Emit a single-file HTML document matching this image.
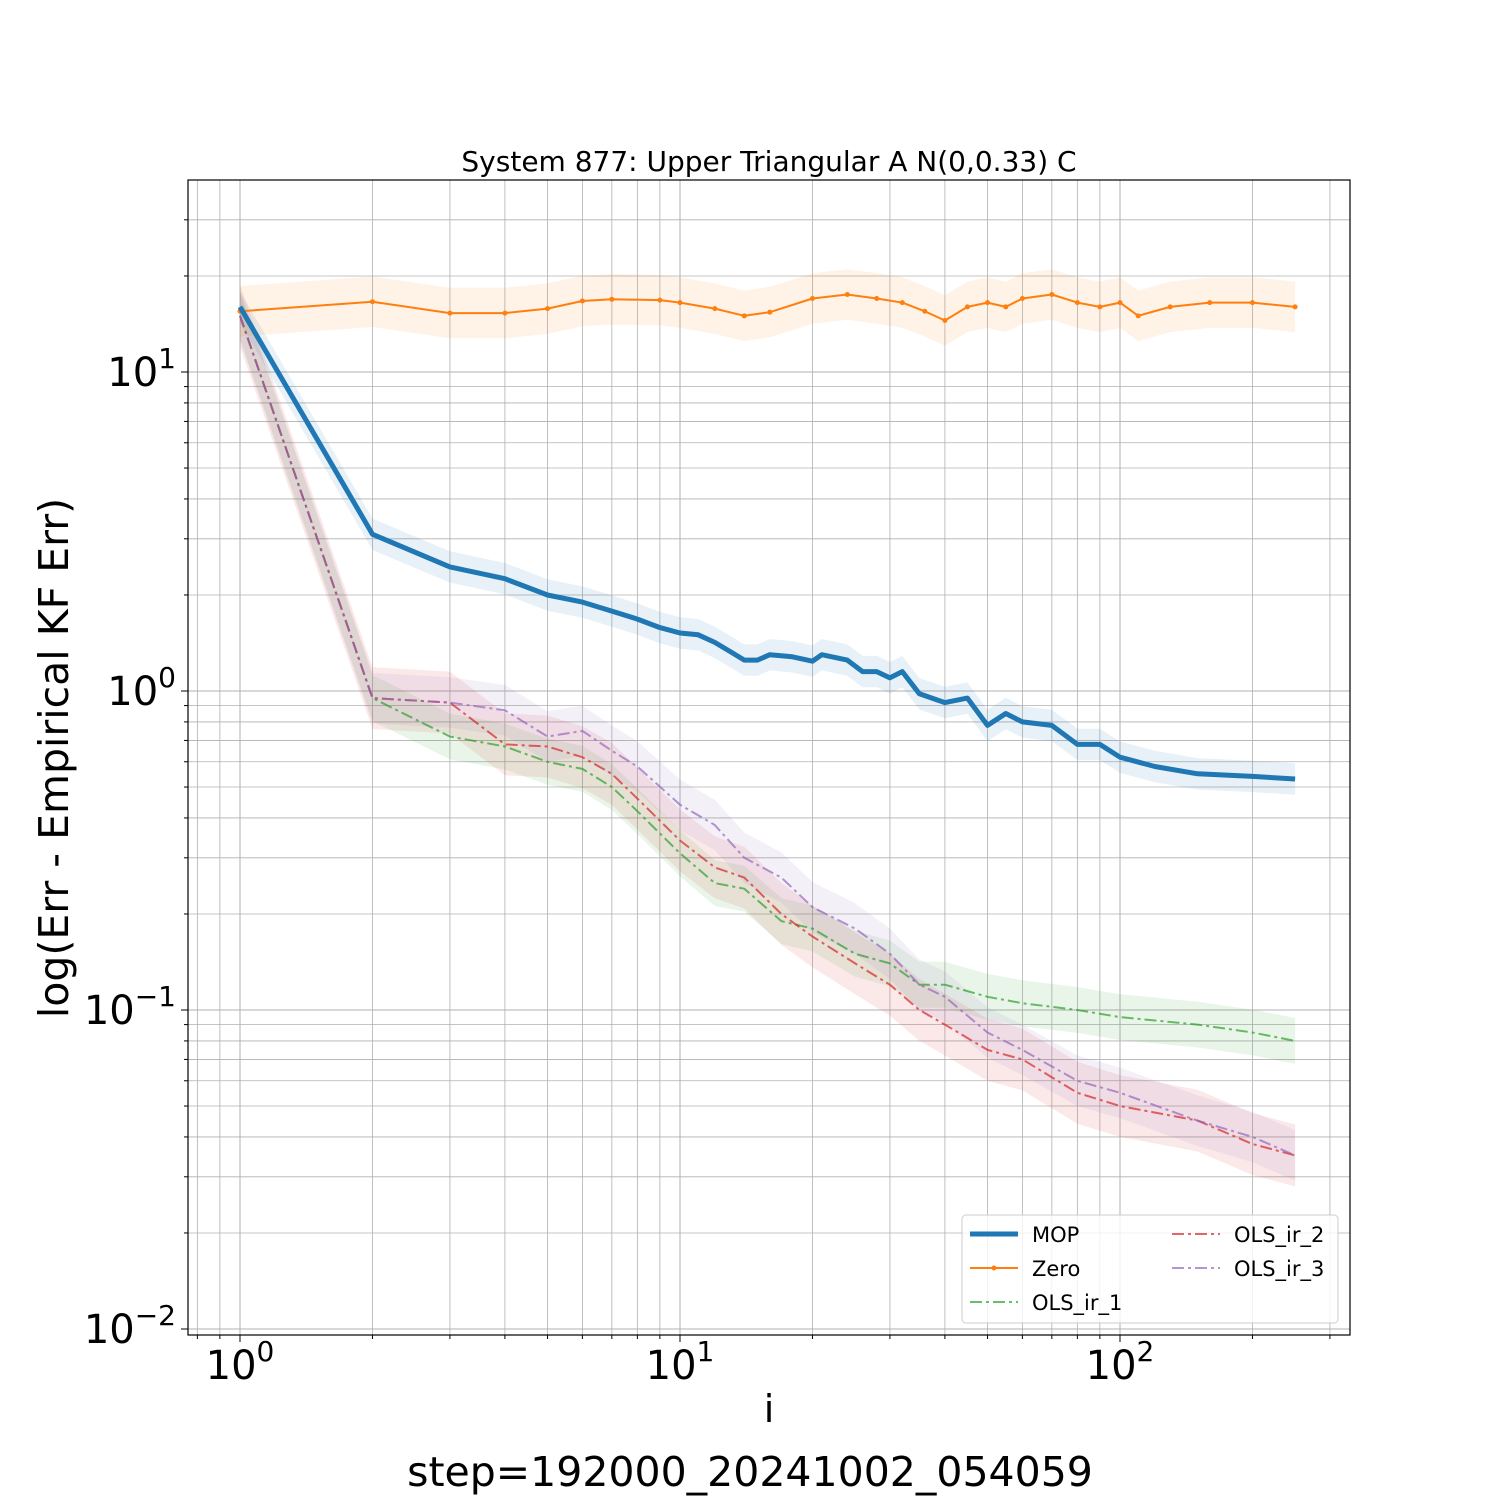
<!DOCTYPE html>
<html><head><meta charset="utf-8">
<style>
html,body{margin:0;padding:0;background:#fff;}
svg{display:block;font-family:"DejaVu Sans","Liberation Sans",sans-serif;}
</style></head>
<body>
<svg id="chart" width="1500" height="1500" viewBox="0 0 1500 1500">
<text x="769" y="171" font-size="28" text-anchor="middle">System 877: Upper Triangular A N(0,0.33) C</text>
<g id="grid"></g>
<g id="bands"></g>
<g id="lines"></g>
<rect x="188" y="180" width="1162" height="1155" fill="none" stroke="#000" stroke-width="1.2"/>
<g id="ticks"></g>
<text x="769" y="1422" font-size="38" text-anchor="middle">i</text>
<text x="750" y="1486" font-size="41" text-anchor="middle">step=192000_20241002_054059</text>
<text transform="translate(68,758) rotate(-90)" font-size="41" text-anchor="middle">log(Err - Empirical KF Err)</text>
<g>
<rect x="962" y="1215" width="376" height="108" rx="4" fill="#fff" fill-opacity="0.8" stroke="#ccc"/>
<g><line x1="970" y1="1234" x2="1018" y2="1234" stroke="#1f77b4" stroke-width="5"/><text x="1032" y="1242" font-size="21">MOP</text></g>
<g><line x1="970" y1="1268" x2="1018" y2="1268" stroke="#ff7f0e" stroke-width="2"/><circle cx="994" cy="1268" r="2.5" fill="#ff7f0e"/><text x="1032" y="1276" font-size="21">Zero</text></g>
<g><line x1="970" y1="1302" x2="1018" y2="1302" stroke="#2ca02c" stroke-opacity="0.7" stroke-width="2" stroke-dasharray="12,4,3,4"/><text x="1032" y="1310" font-size="21">OLS_ir_1</text></g>
<g><line x1="1172" y1="1234" x2="1220" y2="1234" stroke="#d62728" stroke-opacity="0.7" stroke-width="2" stroke-dasharray="12,4,3,4"/><text x="1234" y="1242" font-size="21">OLS_ir_2</text></g>
<g><line x1="1172" y1="1268" x2="1220" y2="1268" stroke="#9467bd" stroke-opacity="0.7" stroke-width="2" stroke-dasharray="12,4,3,4"/><text x="1234" y="1276" font-size="21">OLS_ir_3</text></g>
</g>
</svg>
<script>
const mopX=[1,2,3,4,5,6,7,8,9,10,11,12,13,14,15,16,18,20,21,24,26,28,30,32,35,40,45,50,55,60,70,80,90,100,120,150,200,250];
const mopY=[16,3.1,2.45,2.25,2.0,1.9,1.78,1.68,1.58,1.52,1.5,1.42,1.33,1.25,1.25,1.3,1.28,1.24,1.3,1.25,1.15,1.15,1.1,1.15,0.98,0.92,0.95,0.78,0.85,0.8,0.78,0.68,0.68,0.62,0.58,0.55,0.54,0.53];
const zeroX=[1,2,3,4,5,6,7,9,10,12,14,16,20,24,28,32,36,40,45,50,55,60,70,80,90,100,110,130,160,200,250];
const zeroY=[15.5,16.6,15.3,15.3,15.8,16.7,16.9,16.8,16.5,15.8,15.0,15.4,17,17.5,17,16.5,15.5,14.5,16,16.5,16,17,17.5,16.5,16,16.5,15,16,16.5,16.5,16];
const olsX=[1,2,3,4,5,6,7,8,10,12,14,17,20,25,30,35,40,50,60,80,100,150,200,250];
const ols1Y=[15,0.95,0.72,0.67,0.6,0.57,0.5,0.42,0.31,0.25,0.24,0.19,0.18,0.15,0.14,0.12,0.12,0.11,0.105,0.1,0.095,0.09,0.085,0.08];
const ols2Y=[15,0.95,0.92,0.68,0.67,0.62,0.55,0.46,0.34,0.28,0.26,0.2,0.17,0.14,0.12,0.1,0.09,0.075,0.07,0.055,0.05,0.045,0.038,0.035];
const ols3Y=[15,0.95,0.92,0.87,0.72,0.75,0.65,0.58,0.44,0.38,0.3,0.26,0.21,0.18,0.15,0.12,0.11,0.085,0.075,0.06,0.055,0.045,0.04,0.035];
const xTickLabels=["0","1","2"];
const yTickLabels=["1","0","\u22121","\u22122"];

const NS="http://www.w3.org/2000/svg";
const X=v=>240+440*Math.log10(v);
const Y=v=>691-319*Math.log10(v);
function mk(tag,attrs,parent){const e=document.createElementNS(NS,tag);for(const k in attrs)e.setAttribute(k,attrs[k]);parent.appendChild(e);return e;}
const grid=document.getElementById('grid'),ticks=document.getElementById('ticks'),bands=document.getElementById('bands'),lines=document.getElementById('lines');
for(let d=0;d<3;d++){for(let m=1;m<10;m++){const v=m*Math.pow(10,d);if(v>300)continue;const x=X(v);
 const g=mk('line',{x1:x,x2:x,y1:180,y2:1335,stroke:'#b0b0b0','stroke-width':m===1?1:0.8},grid);
 
 
 mk('line',{x1:x,x2:x,y1:1335,y2:1335+(m===1?7:4),stroke:'#000','stroke-width':1},ticks);
 if(m===1){const t=mk('text',{x:x,y:1379,'font-size':40,'text-anchor':'middle'},ticks);
  
  
  t.innerHTML='10<tspan dy="-18" font-size="28">'+xTickLabels[d]+'</tspan>';}}}
for(const v of [0.8,0.9]){const x=X(v);mk('line',{x1:x,x2:x,y1:180,y2:1335,stroke:'#b0b0b0','stroke-width':0.8},grid);mk('line',{x1:x,x2:x,y1:1335,y2:1339,stroke:'#000'},ticks);}
for(let d=-2;d<2;d++){for(let m=1;m<10;m++){const v=m*Math.pow(10,d);const y=Y(v);if(y<180||y>1335)continue;
 const g=mk('line',{x1:188,x2:1350,y1:y,y2:y,stroke:'#b0b0b0','stroke-width':m===1?1:0.8},grid);
 
 
 mk('line',{x1:188-(m===1?7:4),x2:188,y1:y,y2:y,stroke:'#000'},ticks);
 if(m===1){const t=mk('text',{x:176,y:y+14,'font-size':40,'text-anchor':'end'},ticks);
  
  
  t.innerHTML='10<tspan dy="-18" font-size="28">'+yTickLabels[1-d]+'</tspan>';}}}
function pts(xs,ys,f){return xs.map((x,i)=>X(x).toFixed(1)+','+Y(ys[i]*f).toFixed(1));}
function series(name,xs,ys,color,width,dash,op,bandF,marker){
 const b=mk('polygon',{points:pts(xs,ys,bandF).concat(pts(xs,ys,1/bandF).reverse()).join(' '),fill:color,'fill-opacity':0.1},bands);
 
 
 const l=mk('polyline',{points:pts(xs,ys,1).join(' '),fill:'none',stroke:color,'stroke-width':width,'stroke-opacity':op,'stroke-linejoin':'round'},lines);
 if(dash)l.setAttribute('stroke-dasharray',dash);
 
 
 if(marker)xs.forEach((x,i)=>{const c=mk('circle',{cx:X(x),cy:Y(ys[i]),r:2.5,fill:color},lines);
  
  });
}
series('ols-ir-1',olsX,ols1Y,'#2ca02c',2,'12,4,3,4',0.7,1.18);
series('ols-ir-2',olsX,ols2Y,'#d62728',2,'12,4,3,4',0.7,1.25);
series('ols-ir-3',olsX,ols3Y,'#9467bd',2,'12,4,3,4',0.7,1.2);
series('zero',zeroX,zeroY,'#ff7f0e',2,null,1,1.2,true);
series('mop',mopX,mopY,'#1f77b4',5,null,1,1.12);
</script>
</body></html>
